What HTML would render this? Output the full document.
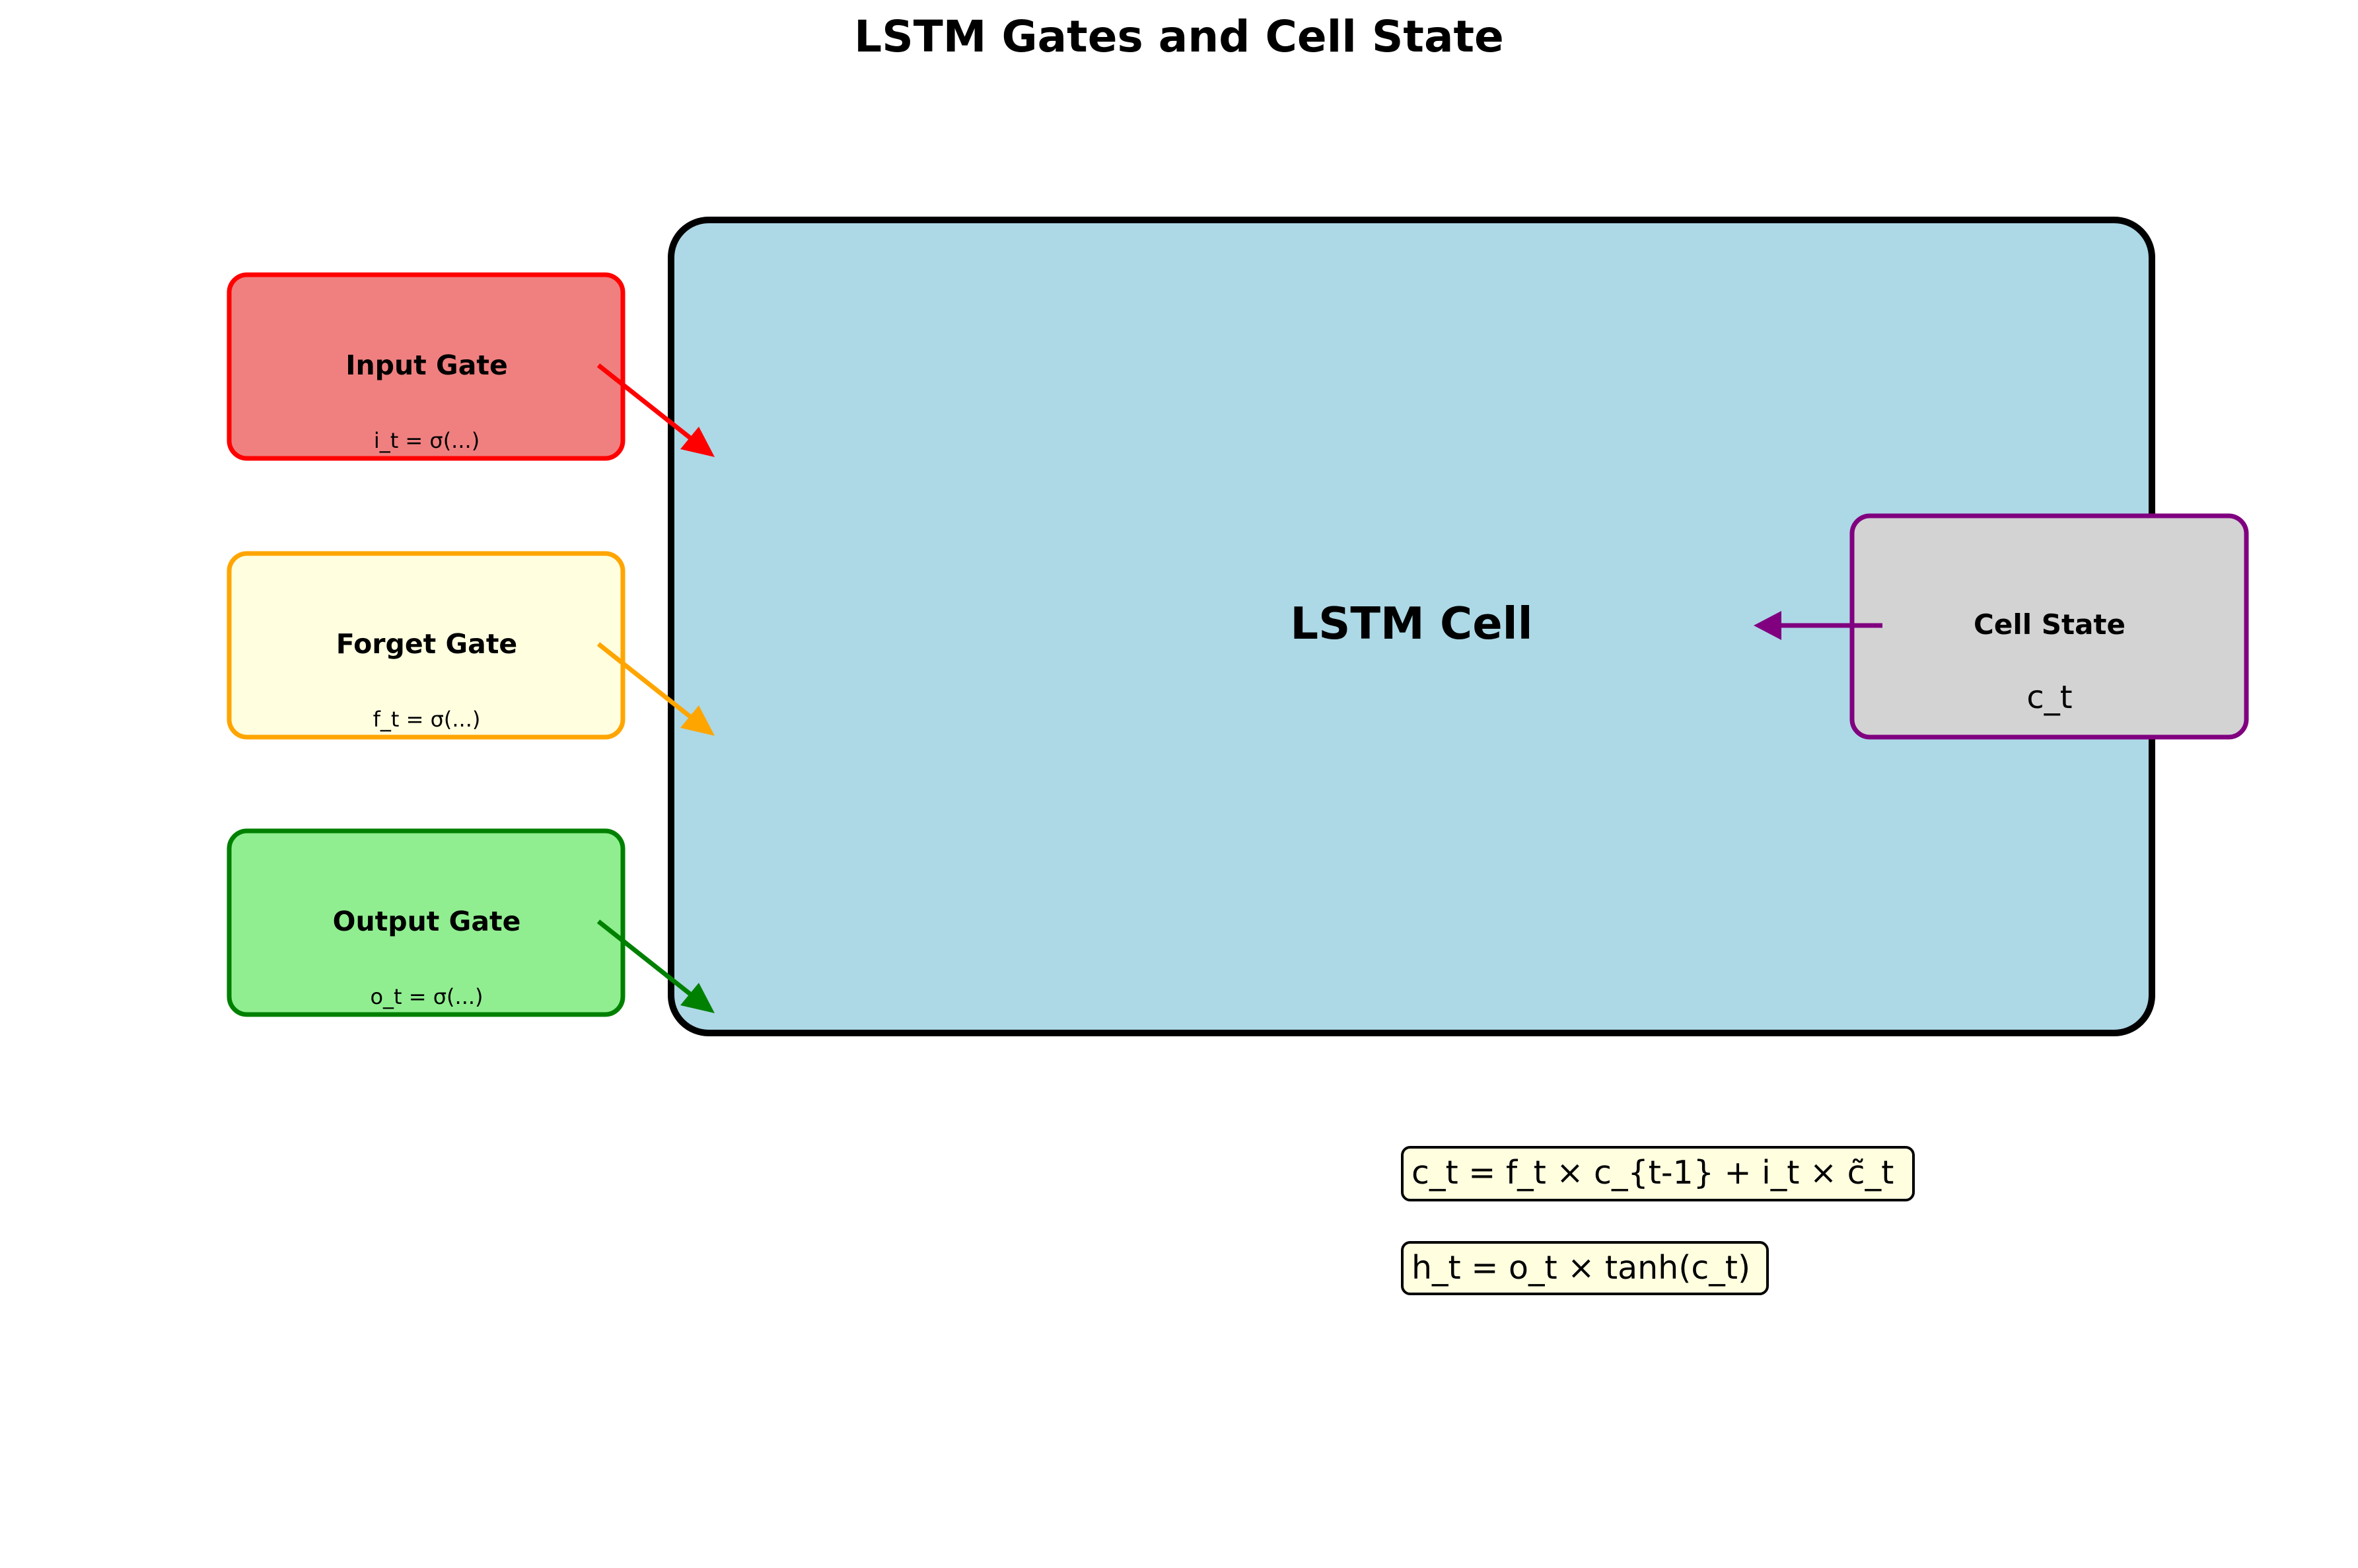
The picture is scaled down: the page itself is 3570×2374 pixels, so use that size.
<!DOCTYPE html>
<html><head><meta charset="utf-8"><style>html,body{margin:0;padding:0;background:#fff}svg{display:block}</style></head>
<body>
<svg width="3570" height="2374" viewBox="0 0 3570 2374" xmlns="http://www.w3.org/2000/svg" font-family="'DejaVu Sans','Liberation Sans',sans-serif">
<text x="1785" y="78" text-anchor="middle" font-size="66" font-weight="bold">LSTM Gates and Cell State</text>
<rect x="1016" y="333" width="2242" height="1231" rx="57" fill="#add8e6" stroke="#000" stroke-width="10"/>
<text x="2137" y="967" text-anchor="middle" font-size="67" font-weight="bold">LSTM Cell</text>

<rect x="347" y="416" width="596" height="278" rx="27" fill="#f08080" stroke="#ff0000" stroke-width="7"/>
<text x="646" y="567" text-anchor="middle" font-size="41" font-weight="bold">Input Gate</text>
<text x="646" y="678" text-anchor="middle" font-size="32">i_t = σ(...)</text>

<rect x="347" y="838" width="596" height="278" rx="27" fill="#ffffe0" stroke="#ffa500" stroke-width="7"/>
<text x="646" y="989" text-anchor="middle" font-size="41" font-weight="bold">Forget Gate</text>
<text x="646" y="1100" text-anchor="middle" font-size="32">f_t = σ(...)</text>

<rect x="347" y="1258" width="596" height="278" rx="27" fill="#90ee90" stroke="#008000" stroke-width="7"/>
<text x="646" y="1409" text-anchor="middle" font-size="41" font-weight="bold">Output Gate</text>
<text x="646" y="1520" text-anchor="middle" font-size="32">o_t = σ(...)</text>

<rect x="2804" y="781" width="597" height="335" rx="27" fill="#d3d3d3" stroke="#800080" stroke-width="7"/>
<text x="3103" y="960" text-anchor="middle" font-size="42" font-weight="bold">Cell State</text>
<text x="3103" y="1072" text-anchor="middle" font-size="48">c_t</text>

<g stroke-width="7">
<line x1="906" y1="553" x2="1050" y2="667" stroke="#ff0000"/>
<polygon points="1082,692 1030,680 1058,646" fill="#ff0000"/>
<line x1="906" y1="975" x2="1050" y2="1089" stroke="#ffa500"/>
<polygon points="1082,1114 1030,1102 1058,1068" fill="#ffa500"/>
<line x1="906" y1="1395" x2="1050" y2="1509" stroke="#008000"/>
<polygon points="1082,1534 1030,1522 1058,1488" fill="#008000"/>
<line x1="2850" y1="947" x2="2685" y2="947" stroke="#800080"/>
<polygon points="2655,947 2697,925 2697,969" fill="#800080"/>
</g>

<rect x="2123" y="1737" width="774" height="80" rx="12" fill="#ffffe0" stroke="#000" stroke-width="4"/>
<text x="2137" y="1792" font-size="49">c_t = f_t × c_{t-1} + i_t × c̃_t</text>
<rect x="2123" y="1881" width="553" height="78" rx="12" fill="#ffffe0" stroke="#000" stroke-width="4"/>
<text x="2137" y="1936" font-size="49">h_t = o_t × tanh(c_t)</text>
</svg>
</body></html>
